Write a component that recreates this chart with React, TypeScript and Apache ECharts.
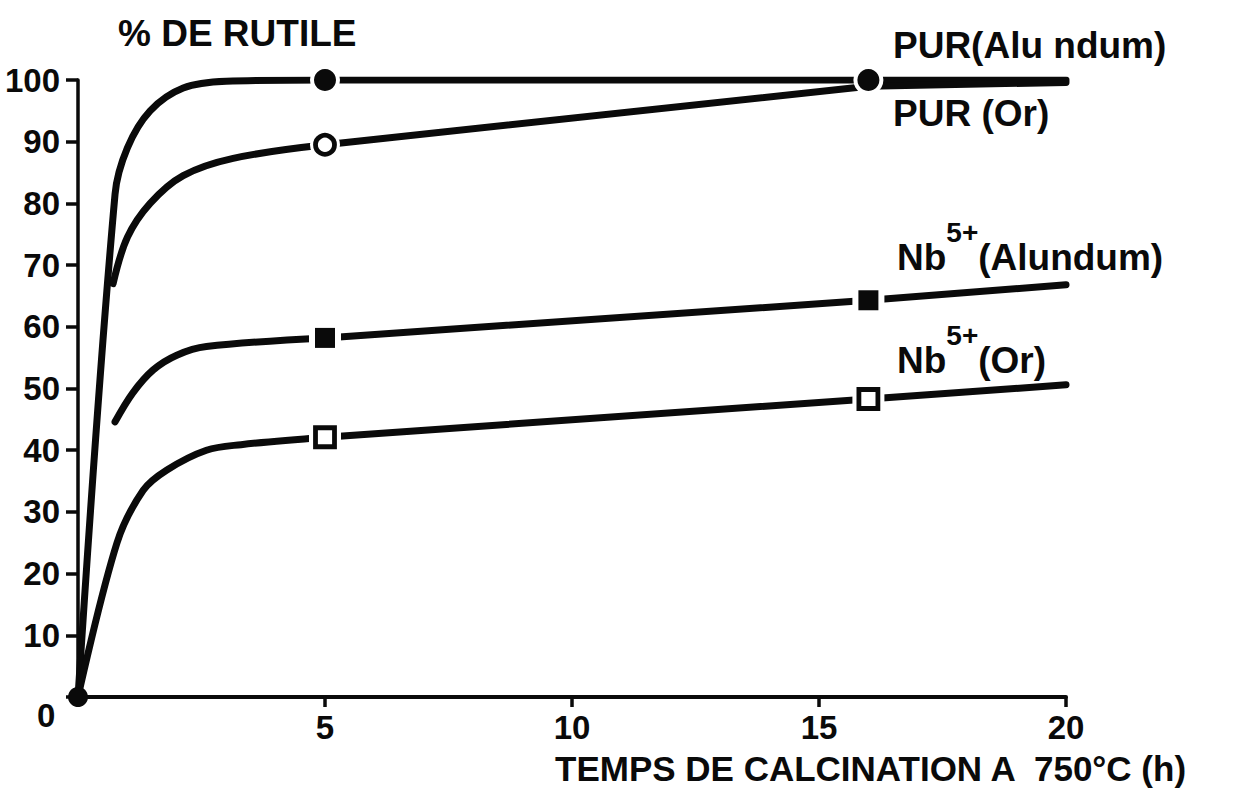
import React, { useEffect, useRef } from "react";
import * as echarts from "echarts";

// x: temps de calcination (h), y: % de rutile
const xTickValues = [0, 5, 10, 15, 20];
const yTickValues = [0, 10, 20, 30, 40, 50, 60, 70, 80, 90, 100];

// rising (curved) part of each curve, up to 5 h
const purAlundumRise: [number, number][] = [
  [0, 0], [0.75, 81.5], [1.0, 89], [1.46, 95], [2.13, 98.7], [3.0, 99.8], [5, 100],
];
const purOrRise: [number, number][] = [
  [0.71, 67], [1.0, 74.5], [1.46, 80], [2.13, 84.5], [3.14, 87.3], [5, 89.5],
];
const nbAlundumRise: [number, number][] = [
  [0.75, 44.6], [1.11, 49.3], [1.52, 53], [2.0, 55.4], [2.6, 56.8], [5, 58.2],
];
const nbOrRise: [number, number][] = [
  [0, 0], [0.79, 25], [1.32, 33.5], [1.8, 36.8], [2.6, 40], [3.3, 40.9], [5, 42.1],
];

// straight part of each curve, from 5 h to 20 h
const purAlundumPlateau: [number, number][] = [[5, 100], [16, 100], [20, 100]];
const purOrPlateau: [number, number][] = [[5, 89.5], [16, 99], [20, 99.6]];
const nbAlundumPlateau: [number, number][] = [[5, 58.2], [16, 64.3], [20, 66.8]];
const nbOrPlateau: [number, number][] = [[5, 42.1], [16, 48.3], [20, 50.6]];

// measured points (markers)
const purAlundumMarks: [number, number][] = [[5, 100], [16, 100]];
const purOrMarks: [number, number][] = [[5, 89.5]];
const nbAlundumMarks: [number, number][] = [[5, 58.2], [16, 64.3]];
const nbOrMarks: [number, number][] = [[5, 42.1], [16, 48.3]];
const originMark: [number, number][] = [[0, 0]];

const yTitle = "% DE RUTILE";
const xTitle = "TEMPS DE CALCINATION A  750°C (h)";
const labelPurAlundum = "PUR(Alu ndum)";
const labelPurOr = "PUR (Or)";
const labelNbAlundum = "{n|Nb}{s|5+}{n|(Alundum)}";
const labelNbOr = "{n|Nb}{s|5+}{n|(Or)}";

const INK = "#0a0a0a";
const FONT = "'Liberation Sans', Arial, sans-serif";

function lineSeries(data: [number, number][], smooth: number | boolean) {
  return {
    type: "line",
    data,
    smooth,
    showSymbol: false,
    symbol: "none",
    z: 2,
    lineStyle: { color: INK, width: 7, cap: "round", join: "round", opacity: 1 },
  };
}

function haloSeries(data: [number, number][], symbol: string, size: number) {
  return {
    type: "scatter",
    data,
    symbol,
    symbolSize: size,
    z: 3,
    silent: true,
    itemStyle: { color: "#ffffff", borderWidth: 0, opacity: 1 },
  };
}

function markSeries(data: [number, number][], symbol: string, size: number, filled: boolean) {
  return {
    type: "scatter",
    data,
    symbol,
    symbolSize: size,
    z: 4,
    silent: true,
    itemStyle: filled
      ? { color: INK, borderWidth: 0, opacity: 1 }
      : { color: "#ffffff", borderColor: INK, borderWidth: 4.8, opacity: 1 },
  };
}

function txt(text: string, x: number, y: number, size: number, extra: any = {}) {
  return {
    type: "text",
    x,
    y,
    z: 10,
    style: {
      text,
      fill: INK,
      fontSize: size,
      fontFamily: FONT,
      fontWeight: "bold",
      textAlign: "left",
      align: "left",
      textVerticalAlign: "middle",
      verticalAlign: "middle",
      ...extra,
    },
  };
}

const supRich = {
  n: { fontSize: 37, fontFamily: FONT, fontWeight: "bold", fill: INK, color: INK, lineHeight: 58, verticalAlign: "bottom" },
  s: { fontSize: 28, fontFamily: FONT, fontWeight: "bold", fill: INK, color: INK, verticalAlign: "top" },
};

export default function App() {
  const ref = useRef<HTMLDivElement>(null);
  useEffect(() => {
    if (!ref.current) return;
    const chart = echarts.init(ref.current, undefined, { renderer: "svg" });
    chart.setOption({
      animation: false,
      backgroundColor: "#ffffff",
      grid: { left: 78, right: 169, top: 80, bottom: 95, containLabel: false, outerBoundsMode: "none" },
      xAxis: {
        type: "value",
        min: xTickValues[0],
        max: xTickValues[xTickValues.length - 1],
        interval: 5,
        splitLine: { show: false },
        axisLine: { show: true, onZero: false, lineStyle: { color: INK, width: 4 } },
        axisTick: { show: true, length: 10, lineStyle: { color: INK, width: 3.5 } },
        axisLabel: {
          color: INK,
          fontSize: 33,
          fontFamily: FONT,
          fontWeight: "bold",
          margin: 14,
          formatter: (v: number) => (v === 0 ? "" : String(v)),
        },
      },
      yAxis: {
        type: "value",
        min: yTickValues[0],
        max: yTickValues[yTickValues.length - 1],
        interval: 10,
        splitLine: { show: false },
        axisLine: { show: true, onZero: false, lineStyle: { color: INK, width: 3.5 } },
        axisTick: { show: true, length: 12, lineStyle: { color: INK, width: 3.5 } },
        axisLabel: {
          color: INK,
          fontSize: 33,
          fontFamily: FONT,
          fontWeight: "bold",
          margin: 18,
          formatter: (v: number) => (v === 0 ? "" : String(v)),
        },
      },
      series: [
        lineSeries(purAlundumRise, 0.35),
        lineSeries(purOrRise, 0.35),
        lineSeries(nbAlundumRise, 0.35),
        lineSeries(nbOrRise, 0.35),
        lineSeries(purAlundumPlateau, false),
        lineSeries(purOrPlateau, false),
        lineSeries(nbAlundumPlateau, false),
        lineSeries(nbOrPlateau, false),
        haloSeries(purAlundumMarks, "circle", 30),
        haloSeries(purOrMarks, "circle", 30),
        haloSeries(nbAlundumMarks, "rect", 32),
        haloSeries(nbOrMarks, "rect", 32),
        markSeries(purAlundumMarks, "circle", 22, true),
        markSeries(purOrMarks, "circle", 19, false),
        markSeries(nbAlundumMarks, "rect", 20, true),
        markSeries(nbOrMarks, "rect", 19, false),
        markSeries(originMark, "circle", 20, true),
      ],
      graphic: [
        txt(yTitle, 118, 33, 37),
        txt("0", 37, 715, 33),
        txt(labelPurAlundum, 893, 45, 37),
        txt(labelPurOr, 893, 113, 37),
        txt(labelNbAlundum, 897, 247, 37, { rich: supRich }),
        txt(labelNbOr, 897, 350, 37, { rich: supRich }),
        txt(xTitle, 555, 768, 35),
      ],
    });
    return () => chart.dispose();
  }, []);
  return (
    <div
      ref={ref}
      style={{ position: "fixed", left: 0, top: 0, width: 1235, height: 792, background: "#fff" }}
    />
  );
}
